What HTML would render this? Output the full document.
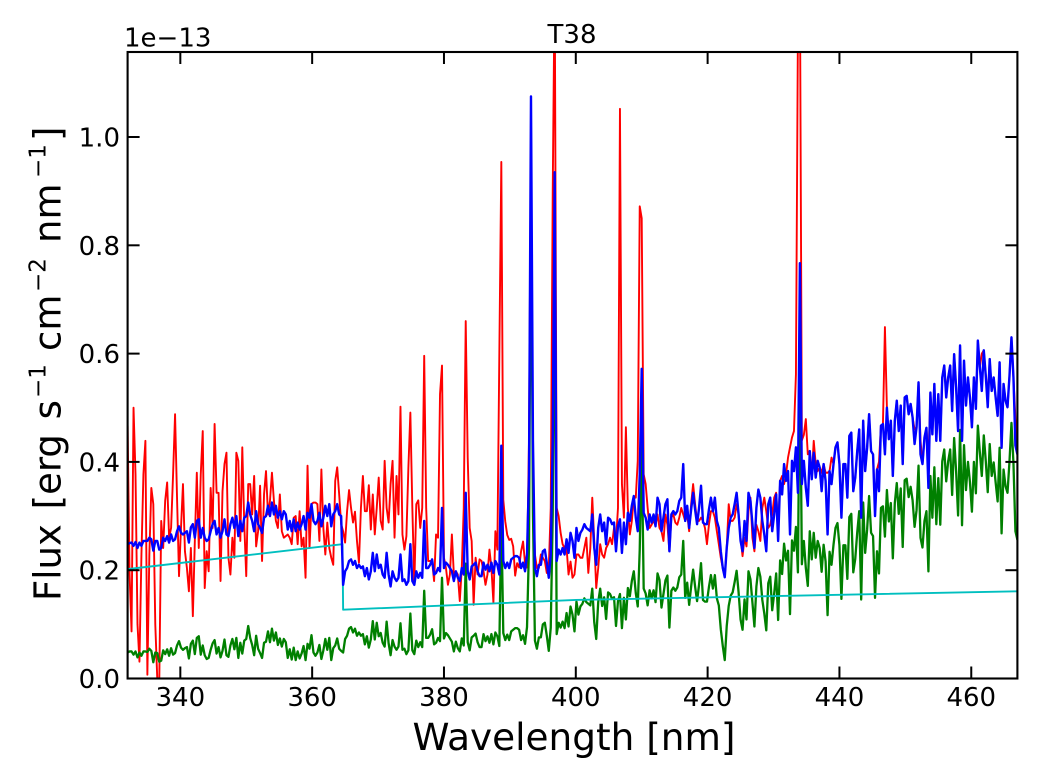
<!DOCTYPE html>
<html>
<head>
<meta charset="utf-8">
<title>T38 spectrum</title>
<style>
html,body{margin:0;padding:0;background:#fff;width:1040px;height:780px;overflow:hidden}
svg{display:block}
text{font-family:"DejaVu Sans","Liberation Sans",sans-serif;fill:#000}
</style>
</head>
<body>
<svg id="chart" xmlns="http://www.w3.org/2000/svg" width="1040" height="780" viewBox="0 0 1040 780">
  <defs><clipPath id="plot-clip"><rect x="127.6" y="52" width="889.8" height="626.5"/></clipPath></defs>
  <rect x="127.6" y="52" width="889.8" height="626.5" fill="#fff"/>
  <g id="series" clip-path="url(#plot-clip)"></g>
  <g id="ticks"></g>
  <rect x="127.6" y="52" width="889.8" height="626.5" fill="none" stroke="#000" stroke-width="2.1"/>
  <text x="572" y="43" font-size="26" text-anchor="middle">T38</text>
  <text x="124" y="46.5" font-size="26">1e−13</text>
  <text x="574" y="750" font-size="37.4" text-anchor="middle">Wavelength [nm]</text>
  <g transform="translate(60.5,0) rotate(-90)">
    <text x="-601" y="0" font-size="37" word-spacing="3">Flux [erg s</text>
    <text x="-398" y="-15" font-size="23">−1</text>
    <text x="-351" y="0" font-size="37">cm</text>
    <text x="-292" y="-15" font-size="23">−2</text>
    <text x="-243" y="0" font-size="37">nm</text>
    <text x="-178" y="-15" font-size="23">−1</text>
    <text x="-141" y="0" font-size="37">]</text>
  </g>
</svg>
<script>
const wavelengthStart = 332;
const wavelengthStep = 0.3;
const xTickValues = [340,360,380,400,420,440,460];
const yTickValues = [0,0.2,0.4,0.6,0.8,1.0];
const yTickLabels = ["0.0","0.2","0.4","0.6","0.8","1.0"];
const cyanWavelengths = [332,364.6,364.7,400,467];
const cyanFlux = [202,248,127,145,161];
const redFlux = [
467,192,87,500,377,100,31,229,377,439,7,229,352,322,100,0,-10,291,241,328,
362,260,278,377,488,334,189,278,359,235,204,161,241,115,254,380,241,377,457,167,
235,198,352,278,470,343,343,180,346,396,417,223,192,260,223,417,402,254,427,285,
189,359,359,303,374,244,272,356,217,340,383,303,328,380,328,291,278,340,272,260,
263,266,260,248,297,300,248,309,244,260,186,393,241,322,325,325,322,254,386,278,
229,288,241,223,210,365,390,340,285,272,251,309,348,315,288,308,254,214,315,374,
309,309,357,275,340,266,315,371,291,275,402,315,288,359,402,260,374,303,502,266,
238,263,389,491,315,173,322,329,278,315,596,315,217,217,217,180,266,260,525,578,
223,204,173,192,266,192,198,192,143,204,315,660,408,278,254,136,223,192,220,217,
198,173,192,238,204,140,272,238,600,954,330,290,265,256,258,244,190,213,205,235,
253,213,205,440,1000,377,229,204,204,229,223,217,195,204,315,900,1300,315,300,269,
248,241,241,192,216,186,192,229,229,223,223,241,260,195,241,334,254,167,204,248,
229,223,241,248,260,248,278,254,315,1052,359,297,464,315,266,291,334,334,402,872,
850,377,359,315,278,284,291,284,303,278,272,254,303,284,235,297,303,288,284,297,
315,303,291,303,272,322,359,322,291,291,297,291,278,248,284,309,309,297,272,248,
223,204,188,241,322,291,291,297,322,303,260,226,260,244,309,334,260,235,284,272,
254,315,334,309,278,284,303,334,343,278,365,374,359,377,408,427,445,457,562,1200,
1300,440,450,479,414,420,371,439,396,383,390,380,396,380,380,383,408,396,427,436,
396,300,396,396,340,448,454,346,371,420,460,300,476,383,426,488,420,414,310,386,
400,467,470,649,500,442,476,374,476,513,457,504,396,519,522,488,507,482,460,464,
547,440,396,445,463,400,528,451,544,439,525,439,556,578,530,556,578,494,599,538,
457,615,439,587,504,556,519,464,556,498,624,575,600,606,559,520,590,531,556,519,
485,584,426,544,513,501,559,630,556,480,414];
const greenFlux = [
48,50,50,44,50,39,48,42,50,50,49,55,51,30,48,47,31,33,52,45,
54,42,56,44,47,61,69,57,53,56,58,37,64,70,45,75,78,44,61,43,
36,38,53,65,71,46,58,39,51,72,43,40,61,73,54,75,38,66,46,70,
73,97,75,62,43,79,55,47,38,66,68,87,67,92,70,85,62,74,59,73,
67,38,54,35,57,34,50,37,46,60,34,64,55,80,48,42,48,62,36,52,
73,53,75,34,56,61,74,55,51,48,73,79,92,95,85,92,79,85,79,82,
63,78,57,72,106,72,103,78,84,66,59,105,65,43,71,59,53,59,102,53,
55,45,52,120,52,45,70,58,67,58,162,75,75,81,91,63,66,75,69,186,
74,84,80,74,68,50,68,56,50,74,61,212,67,52,76,79,83,67,58,58,
82,69,78,66,82,63,85,78,60,298,84,71,81,71,87,90,93,93,90,71,
80,64,95,243,941,305,70,55,76,76,100,103,79,51,94,304,800,82,103,94,
105,93,121,96,133,118,87,142,118,133,138,148,141,138,135,166,104,73,141,166,
134,150,110,159,156,147,150,97,143,156,93,149,109,167,152,180,198,158,133,238,
432,166,157,135,163,148,163,141,194,182,131,156,181,190,94,162,168,162,168,187,
192,254,149,177,136,170,201,170,143,173,213,145,142,142,169,191,166,191,148,135,
91,60,34,97,134,153,159,178,199,159,109,90,146,109,198,183,140,96,170,204,
188,145,120,89,176,188,126,157,194,108,218,193,249,218,236,119,255,236,280,196,
619,211,254,204,171,272,220,269,223,254,241,197,247,216,117,234,210,247,278,287,
246,147,246,246,184,298,304,196,221,270,309,146,325,232,275,337,269,263,149,235,
194,315,318,262,348,290,324,222,324,361,304,351,243,366,369,335,354,329,280,311,
393,260,242,291,309,198,374,297,390,285,370,284,401,423,364,401,423,339,444,383,
301,459,283,431,348,400,363,308,400,342,467,418,374,449,402,344,433,374,399,362,
327,426,268,386,355,343,401,472,398,272,256];
const blueFlux = [
248,250,251,245,252,241,251,245,254,254,254,260,257,236,254,254,238,241,260,254,
263,251,266,254,257,272,281,269,266,269,272,251,279,285,260,291,294,260,278,260,
254,257,272,285,291,266,278,260,272,294,266,263,285,297,278,300,263,291,272,297,
300,325,303,291,272,309,285,278,269,297,300,319,300,325,303,319,297,309,294,309,
303,275,291,272,294,272,288,275,285,300,275,306,297,322,291,285,291,306,281,297,
319,300,322,281,303,309,322,303,300,173,198,204,217,220,210,217,204,210,204,207,
189,204,183,198,232,198,229,204,210,192,186,232,192,170,198,186,180,186,229,180,
183,173,180,248,180,173,198,186,195,186,291,204,204,210,220,192,195,204,198,315,
204,214,210,204,198,180,198,186,180,204,192,343,198,183,207,210,214,198,189,189,
214,201,210,198,214,195,217,210,192,430,217,204,214,204,220,223,226,226,223,204,
214,198,229,377,1075,439,204,189,210,210,235,238,214,186,229,439,935,217,238,229,
241,229,257,232,269,254,223,278,254,269,275,285,278,275,272,303,241,210,278,303,
272,288,248,297,294,285,288,235,281,294,232,288,248,306,291,319,337,297,272,377,
572,306,297,275,303,288,303,281,334,322,272,297,322,331,235,303,309,303,309,328,
334,396,291,319,278,312,343,312,285,315,356,288,285,285,312,334,309,334,291,278,
235,204,187,241,278,297,303,322,343,303,254,235,291,254,343,328,285,241,315,349,
334,291,266,235,322,334,272,303,340,254,365,340,396,365,383,266,402,383,427,343,
767,359,402,352,319,420,368,417,371,402,390,346,396,365,266,383,359,396,427,436,
396,297,396,396,334,448,454,346,371,420,460,297,476,383,426,488,420,414,300,386,
346,467,470,414,500,442,476,374,476,513,457,504,396,519,522,488,507,482,433,464,
547,414,396,445,463,352,528,451,544,439,525,439,556,578,519,556,578,494,599,538,
457,615,439,587,504,556,519,464,556,498,624,575,531,606,559,501,590,531,556,519,
485,584,426,544,513,501,559,630,556,430,414];

const NS = "http://www.w3.org/2000/svg";
const fluxScale = 0.001;
const xMin = 332, xMax = 467, yMin = 0, yMax = 1.157;
const plotLeft = 127.6, plotRight = 1017.4, plotTop = 52, plotBottom = 678.5;
function xAxis(w){ return plotLeft + (w - xMin) / (xMax - xMin) * (plotRight - plotLeft); }
function yAxis(v){ return plotBottom - (v - yMin) / (yMax - yMin) * (plotBottom - plotTop); }
function wavelengthAt(i){ return wavelengthStart + i * wavelengthStep; }
function seriesPoints(values){
  return values.map(function(v,i){ return xAxis(wavelengthAt(i)).toFixed(2) + "," + yAxis(v * fluxScale).toFixed(2); }).join(" ");
}
function makeLine(points, color, width){
  const el = document.createElementNS(NS, "polyline");
  el.setAttribute("points", points);
  el.setAttribute("fill", "none");
  el.setAttribute("stroke", color);
  el.setAttribute("stroke-width", width);
  el.setAttribute("stroke-linejoin", "round");
  return el;
}
const seriesGroup = document.getElementById("series");
const redLine = makeLine(seriesPoints(redFlux), "#ff0000", 1.9);


seriesGroup.appendChild(redLine);
const greenLine = makeLine(seriesPoints(greenFlux), "#008000", 2.3);


seriesGroup.appendChild(greenLine);
const cyanPoints = cyanWavelengths.map(function(w,i){ return xAxis(w).toFixed(2) + "," + yAxis(cyanFlux[i] * fluxScale).toFixed(2); }).join(" ");
const cyanLine = makeLine(cyanPoints, "#00bfbf", 1.9);


seriesGroup.appendChild(cyanLine);
const blueLine = makeLine(seriesPoints(blueFlux), "#0000ff", 2.4);


seriesGroup.appendChild(blueLine);

const tickGroup = document.getElementById("ticks");
const tickLength = 12;
function tickMark(x1,y1,x2,y2){
  const t = document.createElementNS(NS, "line");
  t.setAttribute("x1", x1); t.setAttribute("y1", y1);
  t.setAttribute("x2", x2); t.setAttribute("y2", y2);
  t.setAttribute("stroke", "#000"); t.setAttribute("stroke-width", 2);
  return t;
}
xTickValues.forEach(function(v){
  const x = xAxis(v);
  const bottomTick = tickMark(x, plotBottom, x, plotBottom - tickLength);
  
  
  tickGroup.appendChild(bottomTick);
  const topTick = tickMark(x, plotTop, x, plotTop + tickLength);
  
  
  tickGroup.appendChild(topTick);
  const label = document.createElementNS(NS, "text");
  label.setAttribute("x", x);
  label.setAttribute("y", 706);
  label.setAttribute("font-size", 26);
  label.setAttribute("text-anchor", "middle");
  label.textContent = String(v);
  
  
  tickGroup.appendChild(label);
});
yTickValues.forEach(function(v,i){
  const y = yAxis(v);
  const leftTick = tickMark(plotLeft, y, plotLeft + tickLength, y);
  
  
  tickGroup.appendChild(leftTick);
  const rightTick = tickMark(plotRight, y, plotRight - tickLength, y);
  
  
  tickGroup.appendChild(rightTick);
  const label = document.createElementNS(NS, "text");
  label.setAttribute("x", 120);
  label.setAttribute("y", y + 9.5);
  label.setAttribute("font-size", 26);
  label.setAttribute("text-anchor", "end");
  label.textContent = yTickLabels[i];
  
  
  tickGroup.appendChild(label);
});
</script>
</body>
</html>
